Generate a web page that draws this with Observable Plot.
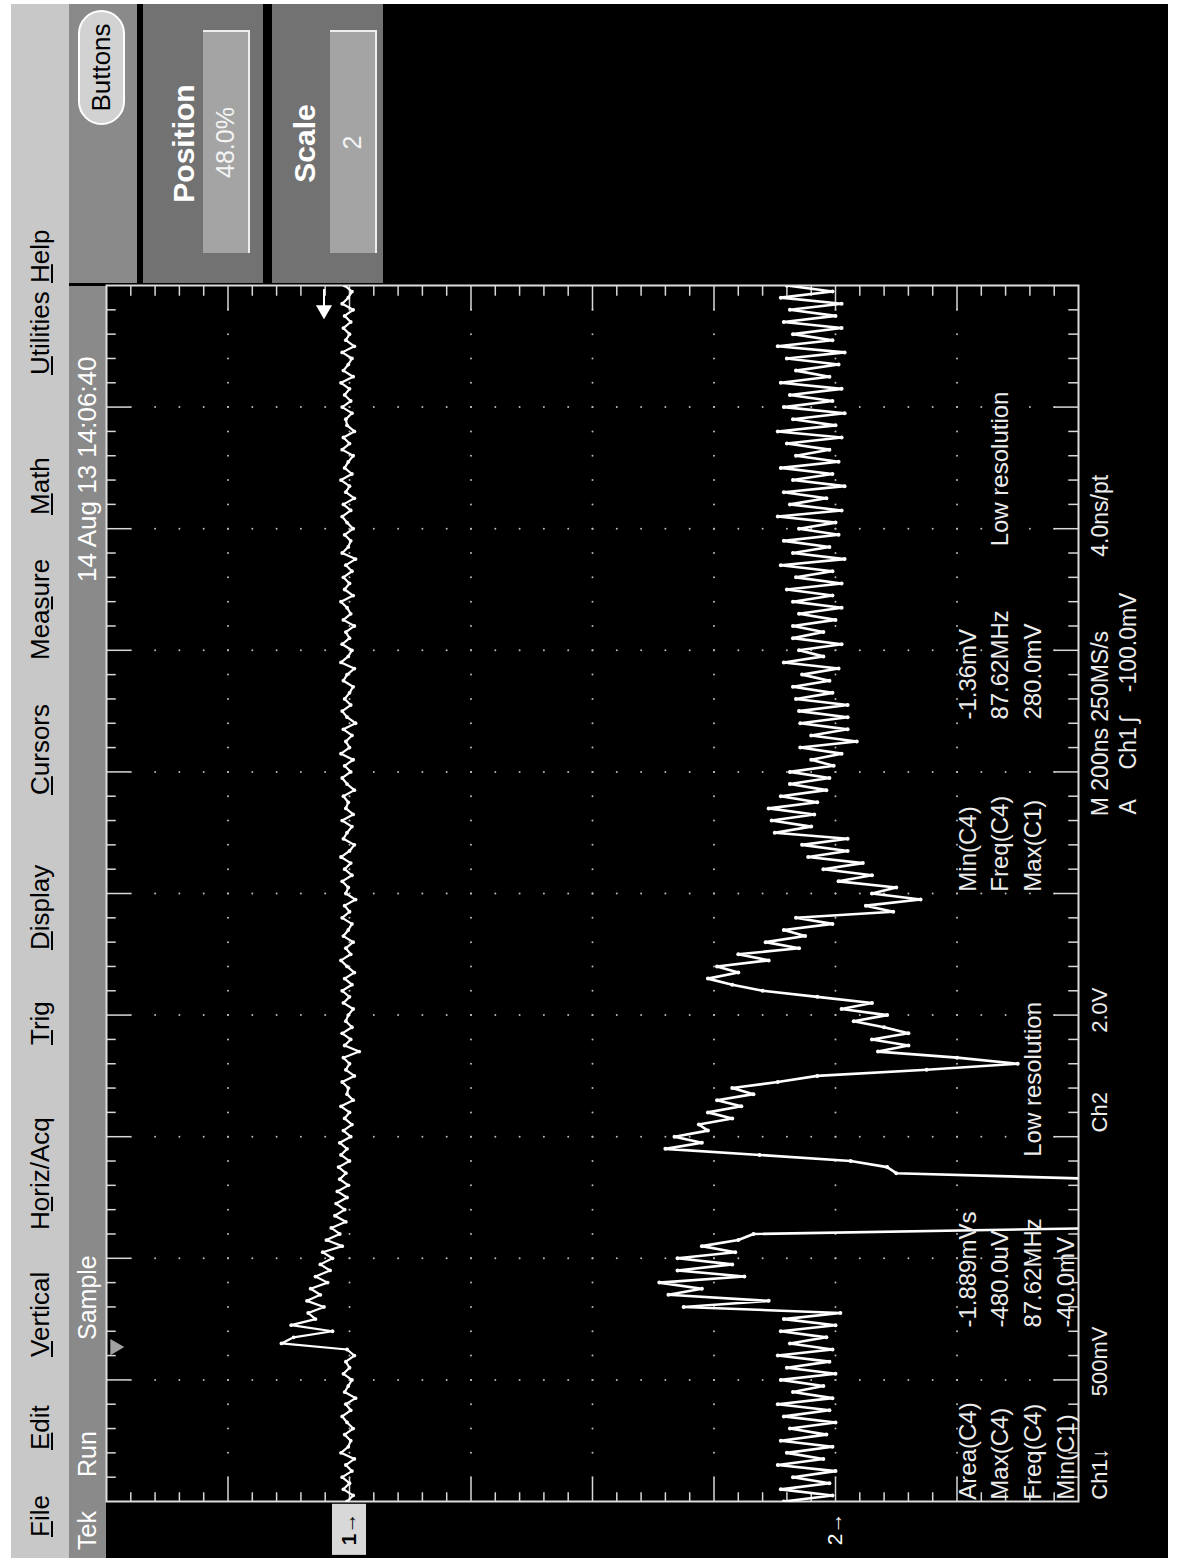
<!DOCTYPE html>
<html><head><meta charset="utf-8">
<script src="https://cdn.jsdelivr.net/npm/d3@7"></script>
<script src="https://cdn.jsdelivr.net/npm/@observablehq/plot@0.6"></script>
<style>
html,body{margin:0;padding:0;background:#fff;overflow:hidden;width:1182px;height:1561px;}
#rot{position:absolute;left:0;top:0;width:1561px;height:1182px;transform-origin:0 0;transform:translate(0,1561px) rotate(-90deg);font-family:"Liberation Sans",Arial,sans-serif;background:#fff;}
.abs{position:absolute;white-space:nowrap;}
</style></head><body>
<div id="rot"></div>
<script>
// ---------------- DATA ----------------
const sampleNs = 10;          // record spacing used for the traces
const nsPerDiv = 200;         // M 200ns
const timeDivs = d3.range(0, 11);
const voltDivs = d3.range(-4, 5);

// Ch1 (500 mV/div, position +2 div) values in mV
const ch1mV = [
 10,-15,25,0,30,-10,15,-20,35,5,-5,20,-15,10,30,-5,15,-25,20,5,-10,25,0,15,-20,10,
 280,230,70,240,140,170,105,175,120,160,90,140,80,120,70,110,30,95,40,75,15,60,20,55,10,50,5,40,15,45,0,35,10,40,-5,
 25,-10,20,0,35,-15,10,5,30,-20,15,0,25,-40,20,-5,30,-10,15,5,
 -15,25,0,30,-10,20,-20,10,35,-5,15,-15,25,5,-10,30,0,20,-25,15,
 5,30,-10,20,-5,35,0,-20,25,10,-10,30,-15,15,5,25,-20,10,30,-5,
 20,-15,35,0,15,-10,25,-25,10,30,-5,20,0,-15,25,10,-20,35,5,-10,
 30,0,15,-20,25,-5,10,35,-15,20,0,25,-10,15,-25,30,5,-5,20,-15,
 10,30,-5,25,-20,15,0,35,-10,20,5,-15,30,0,25,-20,10,15,-10,30,
 -5,20,0,35,-15,25,5,-10,30,-20,15,0,25,-5,20,-15,30,5,-10,20
];

// Ch2 (2.0 V/div, position -2 div) values in V
const ch2V = [
 0.85,0.05,0.9,0.1,0.7,0.0,0.95,0.2,0.8,0.05,0.9,0.15,0.75,0.0,0.85,0.1,
 0.95,0.05,0.7,0.2,0.9,0.0,0.8,0.1,0.95,0.05,0.75,0.15,0.9,0.0,0.85,-0.08,
 2.5,1.1,2.75,2.2,2.9,1.5,2.6,1.7,2.6,1.65,2.2,1.6,1.35,
 -4.5,-4.5,-4.5,-4.5,-4.5,-4.5,-4.5,-4.5,-4.5,
 -1.0,-0.85,-0.25,1.25,2.8,
 2.2,2.65,2.1,2.25,1.7,2.1,1.55,1.95,1.35,1.7,0.95,0.3,
 -1.5,-3.0,-2.0,-0.7,
 -1.2,-0.6,-1.2,-0.8,-0.3,-0.85,-0.1,-0.6,0.3,
 1.2,1.7,2.1,1.6,1.95,1.1,1.6,0.6,1.15,0.5,0.85,0.05,0.65,
 -0.95,-0.5,-1.4,-0.6,-1.0,-0.05,-0.6,0.2,-0.45,0.45,-0.2,0.55,-0.2,
 1.0,0.4,1.05,0.35,1.1,0.3,0.9,0.15,0.75,0.1,0.75,0.03,0.4,-0.1,0.58,-0.35,0.4,-0.2,0.58,-0.2,
 0.6,-0.2,0.65,0.05,0.7,0.1,0.55,-0.05,0.85,0.2,0.6,-0.1,0.7,0.2,0.7,0.0,0.6,-0.1,0.7,0.05,
 0.8,-0.1,0.65,0.05,0.9,-0.15,0.7,0.1,0.85,-0.05,0.6,0.0,0.95,-0.1,0.75,0.15,0.85,-0.15,0.7,0.05,
 0.9,-0.05,0.65,0.1,0.8,-0.1,0.95,0.0,0.7,-0.15,0.85,0.05,0.75,-0.1,0.9,0.1,0.65,-0.05,0.8,-0.15,
 0.95,0.05,0.7,-0.1,0.85,0.0,0.75,-0.1,0.9,0.05,0.8
];

const ch1Cfg = {perDiv: 500, position: 2};
const ch2Cfg = {perDiv: 2.0, position: -2};
const triggerNs = 254;
const trigArrowDiv = 2.21;

const menuLabels = ["File","Edit","Vertical","Horiz/Acq","Trig","Display","Cursors","Measure","Math","Utilities","Help"];
const menuMnemonic = [0,0,0,1,0,0,0,3,0,0,0];
const statusLabels = ["Tek","Run","Sample"];
const dateLabel = "14 Aug 13 14:06:40";

const measLabelsA = ["Area(C4)","Max(C4)","Freq(C4)","Min(C1)"];
const measValuesA = ["-1.889mVs","-480.0uV","87.62MHz","-40.0mV"];
const measLabelsB = ["Min(C4)","Freq(C4)","Max(C1)"];
const measValuesB = ["-1.36mV","87.62MHz","280.0mV"];
const lowRes = "Low resolution";

// ---------------- CHROME (natural orientation, rotated by CSS) ----------------
const root = document.getElementById("rot");
function box(l,t,w,h,style,html){
  const d=document.createElement("div"); d.className="abs";
  Object.assign(d.style,{left:l+"px",top:t+"px",width:w+"px",height:h+"px"},style||{});
  if(html!==undefined) d.innerHTML=html;
  root.appendChild(d); return d;
}
box(3,11,1554,1157,{background:"#000"});
box(3,11,1554,58,{background:"#c8c8c8"});
const menuU=[24,111,204,331,516,611,766,901,1046,1186,1278];
menuLabels.forEach((m,i)=>{
  const k=menuMnemonic[i];
  box(menuU[i],11,160,58,{lineHeight:"58px",fontSize:"26px",color:"#000",width:"auto"},
    m.slice(0,k)+"<u>"+m[k]+"</u>"+m.slice(k+1));
});
box(3,69,1272,37,{background:"#8a8a8a"});
[11,84,221].forEach((u,i)=>box(u,69,120,37,{lineHeight:"37px",fontSize:"25px",color:"#fff",width:"auto"},statusLabels[i]));
box(979,69,260,37,{lineHeight:"37px",fontSize:"26px",color:"#fff",width:"auto"},dateLabel);
// right panel
box(1278,69,279,68,{background:"#8a8a8a"});
box(1436,78,115,47,{background:"#d2d2d2",border:"2px solid #fff",borderRadius:"24px",boxSizing:"border-box",textAlign:"center",lineHeight:"43px",fontSize:"26px",color:"#000"},"Buttons");
box(1278,143,279,120,{background:"#727272"});
box(1278,164,279,40,{textAlign:"center",lineHeight:"40px",fontSize:"30px",fontWeight:"bold",color:"#fff"},"Position");
box(1308,203,223,47,{background:"#a4a4a4",borderRight:"2px solid #eee",borderBottom:"2px solid #eee",boxSizing:"border-box",textAlign:"center",lineHeight:"45px",fontSize:"25px",color:"#f4f4f4"},"48.0%");
box(1278,272,279,111,{background:"#727272"});
box(1278,285,279,40,{textAlign:"center",lineHeight:"40px",fontSize:"30px",fontWeight:"bold",color:"#fff"},"Scale");
box(1308,330,223,47,{background:"#a4a4a4",borderRight:"2px solid #eee",borderBottom:"2px solid #eee",boxSizing:"border-box",textAlign:"center",lineHeight:"45px",fontSize:"25px",color:"#f4f4f4"},"2");

// ---------------- PLOT ----------------
const ch1Data = ch1mV.map((v,i)=>({t:i*sampleNs, div:v/ch1Cfg.perDiv+ch1Cfg.position}));
const ch2Data = ch2V.map((v,i)=>({t:i*sampleNs, div:v/ch2Cfg.perDiv+ch2Cfg.position}));
const tMax = (timeDivs.length-1)*nsPerDiv;

const dots=[];
for(const td of timeDivs.slice(1,-1)) for(let k=1;k<40;k++) dots.push({t:td*nsPerDiv, div:-4+k/5});
for(const vd of voltDivs.slice(1,-1)) for(let k=1;k<50;k++) dots.push({t:k/5*nsPerDiv, div:vd});
const tTicks = d3.range(1,50).map(k=>({t:k/5*nsPerDiv, major:k%5===0}));
const vTicks = d3.range(1,40).map(k=>({div:-4+k/5, major:k%5===0}));
const lenV = d=>d.major?0.2:0.08;      // in divisions
const lenT = d=>d.major?40:16;         // in ns

const rowY = k => -3.09 - 0.27*k;
const botY = k => -4.18 - 0.23*k;
const txt = {fill:"#ececec", fontSize:24, textAnchor:"start"};

const plot = Plot.plot({
  width:1561, height:1182,
  marginLeft:59, marginRight:286, marginTop:106, marginBottom:104,
  x:{domain:[0,tMax], axis:null},
  y:{domain:[-4,4], axis:null},
  style:{background:"transparent", fontFamily:'"Liberation Sans", Arial, sans-serif', overflow:"visible"},
  marks:[
    Plot.dot(dots,{x:"t",y:"div",r:1,fill:"#b8b8b8",stroke:null}),
    Plot.ruleX(tTicks,{x:"t",y1:-4,y2:d=>-4+lenV(d),stroke:"#d8d8d8",strokeWidth:1.5}),
    Plot.ruleX(tTicks,{x:"t",y1:4,y2:d=>4-lenV(d),stroke:"#d8d8d8",strokeWidth:1.5}),
    Plot.ruleY(vTicks,{y:"div",x1:0,x2:d=>lenT(d),stroke:"#d8d8d8",strokeWidth:1.5}),
    Plot.ruleY(vTicks,{y:"div",x1:tMax,x2:d=>tMax-lenT(d),stroke:"#d8d8d8",strokeWidth:1.5}),
    Plot.frame({stroke:"#dcdcdc",strokeWidth:2}),
    // traces
    Plot.line(ch1Data,{x:"t",y:"div",stroke:"#fff",strokeWidth:2.2,clip:true}),
    Plot.dot(ch1Data,{x:"t",y:"div",r:1.9,fill:"#fff",stroke:null,clip:true}),
    Plot.line(ch2Data,{x:"t",y:"div",stroke:"#fff",strokeWidth:2.6,clip:true}),
    Plot.dot(ch2Data,{x:"t",y:"div",r:2,fill:"#fff",stroke:null,clip:true}),
    // trigger position & level markers
    Plot.dot([triggerNs],{x:d=>d,y:3.93,symbol:"triangle",rotate:180,r:6,fill:"#a0a0a0",stroke:null}),
    Plot.ruleY([trigArrowDiv],{y:d=>d,x1:tMax-5,x2:tMax-40,stroke:"#fff",strokeWidth:2}),
    Plot.dot([trigArrowDiv],{x:tMax-40,y:d=>d,symbol:"triangle",rotate:-90,r:6,fill:"#fff",stroke:null}),
    // channel ground markers
    Plot.rect([ch1Cfg],{x1:-87,x2:-3,y1:d=>d.position-0.14,y2:d=>d.position+0.14,fill:"#d8d8d8"}),
    Plot.text([ch1Cfg],{x:-45,y:d=>d.position,text:()=>"1→",fill:"#000",fontSize:21,fontWeight:"bold"}),
    Plot.text([ch2Cfg],{x:-45,y:d=>d.position,text:()=>"2→",fill:"#fff",fontSize:21}),
    // measurement readouts
    Plot.text(measLabelsA,{...txt,x:3,y:(d,i)=>rowY(i),text:d=>d}),
    Plot.text(measValuesA,{...txt,x:286,y:(d,i)=>rowY(i),text:d=>d}),
    Plot.text([lowRes],{...txt,x:567,y:rowY(2),text:d=>d}),
    Plot.text(measLabelsB,{...txt,x:1003,y:(d,i)=>rowY(i),text:d=>d}),
    Plot.text(measValuesB,{...txt,x:1286,y:(d,i)=>rowY(i),text:d=>d}),
    Plot.text([lowRes],{...txt,x:1571,y:rowY(1),text:d=>d}),
    // bottom status readouts
    Plot.text(["Ch1↓"],{...txt,fontSize:22,x:3,y:botY(0),text:d=>d}),
    Plot.text(["500mV"],{...txt,fontSize:22,x:173,y:botY(0),text:d=>d}),
    Plot.text(["Ch2"],{...txt,fontSize:22,x:607,y:botY(0),text:d=>d}),
    Plot.text(["2.0V"],{...txt,fontSize:22,x:771,y:botY(0),text:d=>d}),
    Plot.text(["M 200ns 250MS/s"],{...txt,fontSize:23,x:1127,y:botY(0),text:d=>d}),
    Plot.text(["4.0ns/pt"],{...txt,fontSize:23,x:1554,y:botY(0),text:d=>d}),
    Plot.text(["A"],{...txt,fontSize:23,x:1130,y:botY(1),text:d=>d}),
    Plot.text(["Ch1"],{...txt,fontSize:23,x:1204,y:botY(1),text:d=>d}),
    Plot.text(["∫"],{...txt,fontSize:23,x:1281,y:botY(1),text:d=>d}),
    Plot.text(["-100.0mV"],{...txt,fontSize:23,x:1331,y:botY(1),text:d=>d})
  ]
});
plot.style.position="absolute"; plot.style.left="0px"; plot.style.top="0px";
root.appendChild(plot);
</script>
</body></html>
